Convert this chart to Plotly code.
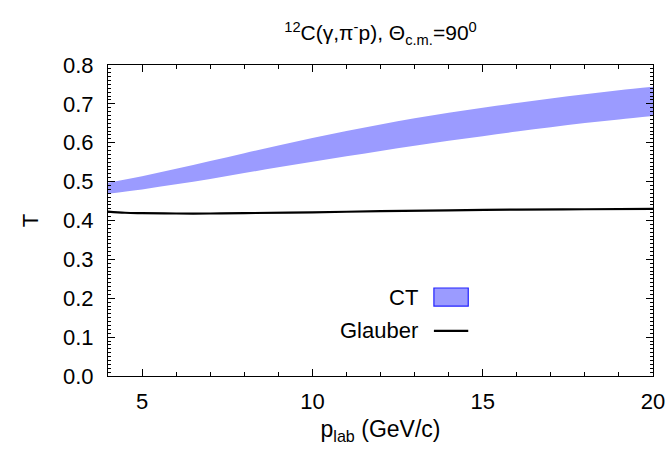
import plotly.graph_objects as go

p_lab = [4, 5, 6, 7, 8, 9, 10, 11, 12, 13, 14, 15, 16, 17, 18, 19, 20]
ct_upper = [0.497, 0.514, 0.533, 0.553, 0.573, 0.593, 0.612, 0.630, 0.647,
            0.663, 0.677, 0.690, 0.702, 0.714, 0.725, 0.735, 0.744]
ct_lower = [0.469, 0.480, 0.493, 0.507, 0.522, 0.537, 0.551, 0.565, 0.579,
            0.592, 0.605, 0.617, 0.629, 0.640, 0.651, 0.660, 0.669]
glauber_x = [4, 4.5, 5, 6, 7, 8, 10, 12, 14, 16, 18, 20]
glauber_y = [0.423, 0.420, 0.419, 0.418, 0.418, 0.419, 0.421, 0.424, 0.426, 0.428, 0.429, 0.430]

band_color = "#9b9bff"
font = "Liberation Sans, Arial, sans-serif"
fsize = 22

fig = go.Figure()
fig.add_trace(go.Scatter(x=p_lab, y=ct_lower, mode="lines", line=dict(width=0, shape="spline"),
                         showlegend=False, hoverinfo="skip"))
fig.add_trace(go.Scatter(x=p_lab, y=ct_upper, mode="lines", line=dict(width=0, shape="spline"),
                         fill="tonexty", fillcolor=band_color, name="CT", showlegend=False))
fig.add_trace(go.Scatter(x=glauber_x, y=glauber_y, mode="lines",
                         line=dict(color="black", width=2.2, shape="spline"),
                         name="Glauber", showlegend=False))

axis_common = dict(showline=True, linecolor="black", linewidth=1.2, mirror="allticks",
                   ticks="inside", tickcolor="black", showgrid=False, zeroline=False,
                   automargin=False,
                   tickfont=dict(family=font, size=fsize, color="black"))

fig.update_xaxes(range=[4, 20], tick0=5, dtick=5, ticklen=7, ticklabelstandoff=5,
                 minor=dict(ticks="inside", dtick=1, ticklen=4, tickcolor="black"),
                 title=dict(text="p<sub>lab</sub> (GeV/c)", font=dict(family=font, size=fsize + 1, color="black"),
                            standoff=8),
                 **axis_common)
fig.update_yaxes(range=[0, 0.8], dtick=0.1, tickformat=".1f", ticklen=7, ticklabelstandoff=9,
                 minor=dict(ticks="inside", dtick=0.01, ticklen=3, tickcolor="black"),
                 title=dict(text="T", font=dict(family=font, size=fsize, color="black"), standoff=18),
                 **axis_common)

# manual legend (text left of symbol, gnuplot style)
fig.add_annotation(xref="paper", yref="paper", x=0.572, y=0.254, xanchor="right", yanchor="middle",
                   text="CT", showarrow=False, font=dict(family=font, size=fsize, color="black"))
fig.add_annotation(xref="paper", yref="paper", x=0.572, y=0.145, xanchor="right", yanchor="middle",
                   text="Glauber", showarrow=False, font=dict(family=font, size=fsize, color="black"))
fig.add_shape(type="rect", xref="paper", yref="paper", x0=0.598, x1=0.661, y0=0.225, y1=0.283,
              fillcolor=band_color, line=dict(color="#2222ff", width=1.2))
fig.add_shape(type="line", xref="paper", yref="paper", x0=0.598, x1=0.661, y0=0.145, y1=0.145,
              line=dict(color="black", width=2.2))

fig.update_layout(
    width=667, height=452,
    margin=dict(l=108, r=14, t=65, b=76),
    paper_bgcolor="white", plot_bgcolor="white",
    title=dict(text="<sup>12</sup>C(γ,π<sup>-</sup>p), Θ<sub>c.m.</sub>=90<sup>0</sup>",
               x=(108 + 0.5 * 545) / 667, xanchor="center", y=0.927, yanchor="middle",
               font=dict(family=font, size=fsize - 1, color="black")),
)

fig.write_html("out.html", config={"displayModeBar": False},
               post_script="document.body.style.margin='0';document.body.style.overflow='hidden';")
